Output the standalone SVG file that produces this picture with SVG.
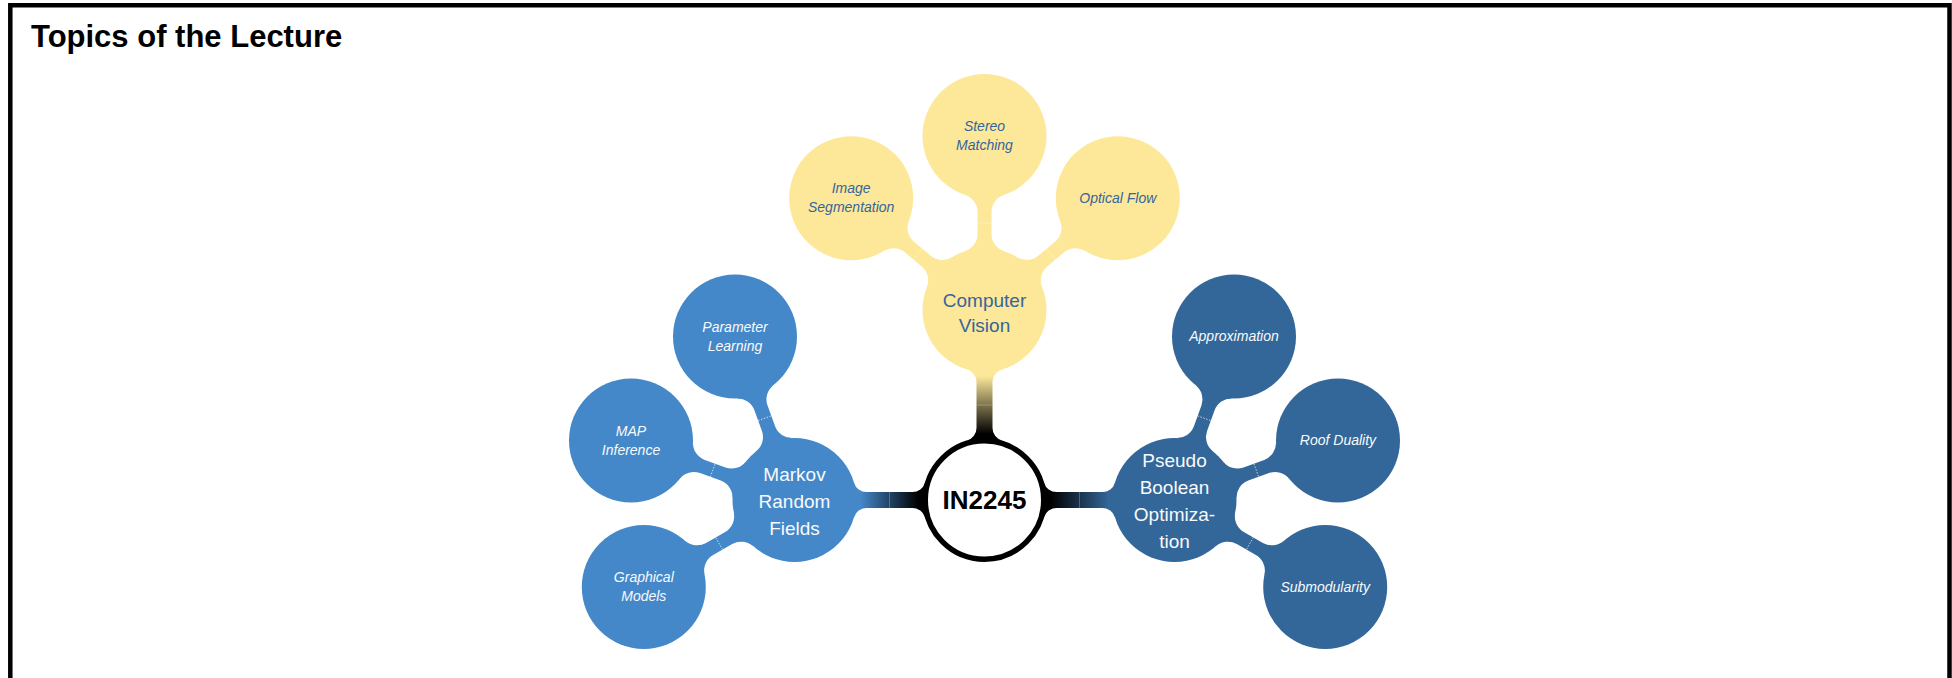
<svg xmlns="http://www.w3.org/2000/svg" width="1952" height="678" viewBox="0 0 1952 678">
<defs>
<style>
.t{font-family:"Liberation Sans",Arial,sans-serif;text-anchor:middle}
.main{font-size:19px}
.sub{font-size:14px;font-style:italic}
.y{fill:#FDE89A}
.lb{fill:#4488C9}
.db{fill:#336699}
.ytxt{fill:#36659A}
.wtxt{fill:#F8FAFC}
.seam{stroke:#FFFFFF;stroke-width:0.8;stroke-dasharray:1.5 1.5;opacity:0.8}
.mseam{stroke:#FFFFFF;stroke-width:0.8;opacity:0.3}
</style>
<path id="cc" d="M58.89,-19.38 A18,18 0 0 0 75.99,-7 L98.01,-7 A18,18 0 0 0 115.11,-19.38 L115.11,19.38 A18,18 0 0 0 98.01,7 L75.99,7 A18,18 0 0 0 58.89,19.38 Z"/>
<path id="mc" d="M59.52,-17.36 A13,13 0 0 0 72,-8 L118,-8 A13,13 0 0 0 130.48,-17.36 L130.48,17.36 A13,13 0 0 0 118,8 L72,8 A13,13 0 0 0 59.52,17.36 Z"/>
<line id="cs" x1="87" y1="-7" x2="87" y2="7"/>
<line id="ms" x1="95" y1="-8" x2="95" y2="8"/>
<linearGradient id="gCV" gradientUnits="userSpaceOnUse" x1="66" y1="0" x2="124" y2="0"><stop offset="0" stop-color="#000000"/><stop offset="1" stop-color="#FDE89A"/></linearGradient>
<linearGradient id="gMRF" gradientUnits="userSpaceOnUse" x1="66" y1="0" x2="124" y2="0"><stop offset="0" stop-color="#000000"/><stop offset="1" stop-color="#4488C9"/></linearGradient>
<linearGradient id="gPBO" gradientUnits="userSpaceOnUse" x1="66" y1="0" x2="124" y2="0"><stop offset="0" stop-color="#000000"/><stop offset="1" stop-color="#336699"/></linearGradient>
</defs>
<rect width="1952" height="678" fill="#FFFFFF"/>
<path d="M10.3,678 V5.3 H1949.5 V678" fill="none" stroke="#000000" stroke-width="4.5"/>
<text x="31" y="47" style="font-family:'Liberation Sans',Arial,sans-serif;font-size:31px;font-weight:bold" fill="#000000">Topics of the Lecture</text>

<g id="connectors">
<use href="#mc" transform="translate(984.5,500) rotate(-90)" fill="url(#gCV)"/>
<use href="#mc" transform="translate(984.5,500) rotate(180)" fill="url(#gMRF)"/>
<use href="#mc" transform="translate(984.5,500)" fill="url(#gPBO)"/>
<use href="#ms" transform="translate(984.5,500) rotate(-90)" class="mseam"/>
<use href="#ms" transform="translate(984.5,500) rotate(180)" class="mseam"/>
<use href="#ms" transform="translate(984.5,500)" class="mseam"/>
<use href="#cc" transform="translate(984.5,310) rotate(-140)" class="y"/>
<use href="#cc" transform="translate(984.5,310) rotate(-90)" class="y"/>
<use href="#cc" transform="translate(984.5,310) rotate(-40)" class="y"/>
<use href="#cc" transform="translate(794.5,500) rotate(-110)" class="lb"/>
<use href="#cc" transform="translate(794.5,500) rotate(-160)" class="lb"/>
<use href="#cc" transform="translate(794.5,500) rotate(150)" class="lb"/>
<use href="#cc" transform="translate(1174.5,500) rotate(-70)" class="db"/>
<use href="#cc" transform="translate(1174.5,500) rotate(-20)" class="db"/>
<use href="#cc" transform="translate(1174.5,500) rotate(30)" class="db"/>
<use href="#cs" transform="translate(984.5,310) rotate(-140)" class="seam"/>
<use href="#cs" transform="translate(984.5,310) rotate(-90)" class="seam"/>
<use href="#cs" transform="translate(984.5,310) rotate(-40)" class="seam"/>
<use href="#cs" transform="translate(794.5,500) rotate(-110)" class="seam"/>
<use href="#cs" transform="translate(794.5,500) rotate(-160)" class="seam"/>
<use href="#cs" transform="translate(794.5,500) rotate(150)" class="seam"/>
<use href="#cs" transform="translate(1174.5,500) rotate(-70)" class="seam"/>
<use href="#cs" transform="translate(1174.5,500) rotate(-20)" class="seam"/>
<use href="#cs" transform="translate(1174.5,500) rotate(30)" class="seam"/>
</g>

<g id="node-in2245">
<circle cx="984.5" cy="500" r="59.25" fill="#FFFFFF" stroke="#000000" stroke-width="5.5"/>
<text class="t" x="984.5" y="509" style="font-size:26px;font-weight:bold" fill="#000000">IN2245</text>
</g>

<g id="node-cv">
<circle cx="984.5" cy="310" r="62" class="y"/>
<text class="t main ytxt"><tspan x="984.5" y="307">Computer</tspan><tspan x="984.5" y="332">Vision</tspan></text>
</g>
<g id="node-imgseg">
<circle cx="851.2" cy="198.2" r="62" class="y"/>
<text class="t sub ytxt"><tspan x="851.2" y="193.2">Image</tspan><tspan x="851.2" y="212.2">Segmentation</tspan></text>
</g>
<g id="node-stereo">
<circle cx="984.5" cy="136" r="62" class="y"/>
<text class="t sub ytxt"><tspan x="984.5" y="131">Stereo</tspan><tspan x="984.5" y="150">Matching</tspan></text>
</g>
<g id="node-optical">
<circle cx="1117.8" cy="198.2" r="62" class="y"/>
<text class="t sub ytxt" x="1117.8" y="202.7">Optical Flow</text>
</g>

<g id="node-mrf">
<circle cx="794.5" cy="500" r="62" class="lb"/>
<text class="t main wtxt"><tspan x="794.5" y="481">Markov</tspan><tspan x="794.5" y="508">Random</tspan><tspan x="794.5" y="535">Fields</tspan></text>
</g>
<g id="node-param">
<circle cx="735" cy="336.5" r="62" class="lb"/>
<text class="t sub wtxt"><tspan x="735" y="331.5">Parameter</tspan><tspan x="735" y="350.5">Learning</tspan></text>
</g>
<g id="node-map">
<circle cx="631" cy="440.5" r="62" class="lb"/>
<text class="t sub wtxt"><tspan x="631" y="435.5">MAP</tspan><tspan x="631" y="454.5">Inference</tspan></text>
</g>
<g id="node-graphical">
<circle cx="643.8" cy="587" r="62" class="lb"/>
<text class="t sub wtxt"><tspan x="643.8" y="582">Graphical</tspan><tspan x="643.8" y="601">Models</tspan></text>
</g>

<g id="node-pbo">
<circle cx="1174.5" cy="500" r="62" class="db"/>
<text class="t main wtxt"><tspan x="1174.5" y="467">Pseudo</tspan><tspan x="1174.5" y="494">Boolean</tspan><tspan x="1174.5" y="521">Optimiza-</tspan><tspan x="1174.5" y="548">tion</tspan></text>
</g>
<g id="node-approx">
<circle cx="1234" cy="336.5" r="62" class="db"/>
<text class="t sub wtxt" x="1234" y="341">Approximation</text>
</g>
<g id="node-roof">
<circle cx="1338" cy="440.5" r="62" class="db"/>
<text class="t sub wtxt" x="1338" y="445">Roof Duality</text>
</g>
<g id="node-submod">
<circle cx="1325.2" cy="587" r="62" class="db"/>
<text class="t sub wtxt" x="1325.2" y="591.5">Submodularity</text>
</g>
</svg>
